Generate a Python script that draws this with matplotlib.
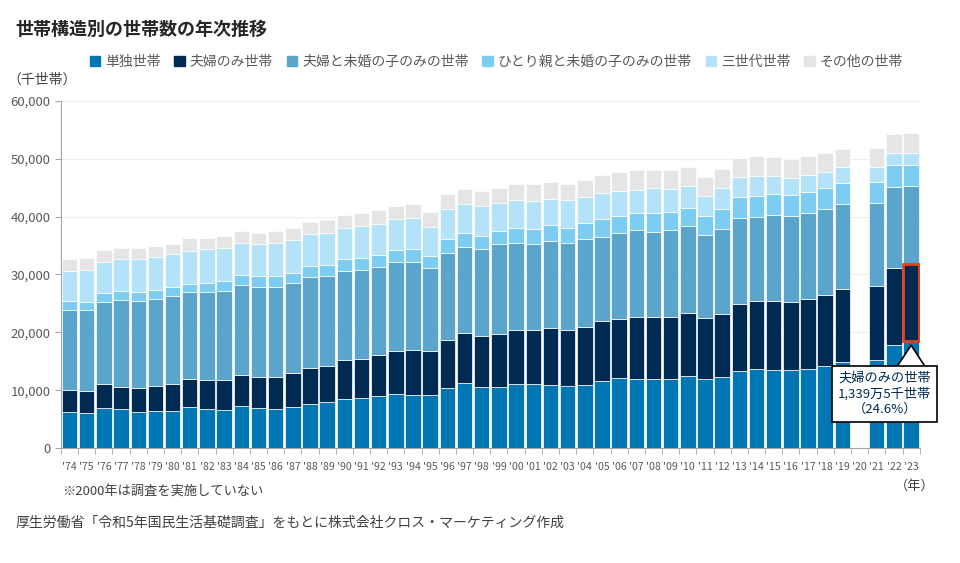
import numpy as np
from matplotlib import pyplot as plt
from matplotlib.patches import Patch

plt.rcParams['font.family'] = ['Noto Sans CJK JP', 'DejaVu Sans']

years = ["'%02d" % (y % 100) for y in range(1974, 2024)]

# thousand households, 2020 not surveyed
tandoku = [6170, 5991, 6970, 6690, 6230, 6400, 6402, 7150, 6800, 6650,
           7260, 6850, 6826, 7150, 7610, 7866, 8420, 8650, 8974, 9340,
           9160, 9213, 10320, 11190, 10627, 10600, 11010, 11017, 10840, 10640,
           10817, 11590, 12050, 11983, 11930, 11990, 12386, 11880, 12280, 13285,
           13662, 13517, 13434, 13613, 14125, 14907, np.nan, 15292, 17852, 18495]
fufu = [3860, 3877, 4040, 3910, 4200, 4320, 4619, 4730, 4960, 5110,
        5360, 5423, 5401, 5870, 6220, 6322, 6750, 6690, 7071, 7430,
        7840, 7488, 8300, 8700, 8781, 9170, 9450, 9403, 9860, 9820,
        10161, 10370, 10200, 10636, 10770, 10710, 10994, 10540, 10940, 11644,
        11748, 11872, 11850, 12096, 12270, 12639, np.nan, 12714, 13330, 13395]
fufu_ko = [13900, 14043, 14180, 14990, 15040, 15100, 15220, 15040, 15160, 15470,
           15510, 15604, 15525, 15460, 15680, 15478, 15490, 15390, 15247, 15340,
           15220, 14398, 15150, 14920, 14951, 15510, 14990, 14872, 15040, 14990,
           15125, 14580, 14870, 15015, 14700, 14930, 14922, 14470, 14650, 14899,
           14546, 14820, 14744, 14891, 14851, 14718, np.nan, 14272, 14022, 13434]
hitorioya = [1500, 1385, 1560, 1500, 1560, 1560, 1630, 1440, 1560, 1670,
             1730, 1797, 1908, 1780, 1960, 1985, 1970, 2130, 1998, 2130,
             2140, 2112, 2420, 2370, 2364, 2300, 2540, 2618, 2770, 2590,
             2774, 3010, 3000, 3006, 3240, 3240, 3180, 3280, 3400, 3621,
             3576, 3624, 3640, 3645, 3683, 3616, np.nan, 3693, 3666, 3645]
sansedai = [5190, 5548, 5410, 5540, 5600, 5600, 5714, 5760, 5880, 5630,
            5590, 5672, 5757, 5760, 5540, 5599, 5410, 5530, 5390, 5310,
            5410, 5082, 5080, 5010, 5125, 4790, 4840, 4844, 4600, 4840,
            4512, 4550, 4380, 4045, 4320, 3980, 3835, 3460, 3640, 3329,
            3464, 3264, 2947, 2910, 2720, 2627, np.nan, 2563, 2086, 2057]
sonota = [2130, 2034, 2130, 1900, 1900, 2010, 1753, 2140, 2010, 2070,
          2000, 1880, 2127, 2080, 2070, 2166, 2300, 2190, 2529, 2350,
          2420, 2478, 2650, 2600, 2648, 2640, 2770, 2909, 2890, 2840,
          2934, 3110, 3170, 3337, 3110, 3270, 3320, 3180, 3340, 3334,
          3435, 3265, 3330, 3270, 3342, 3278, np.nan, 3379, 3353, 3426]

names = ["単独世帯", "夫婦のみ世帯", "夫婦と未婚の子のみの世帯",
         "ひとり親と未婚の子のみの世帯", "三世代世帯", "その他の世帯"]
colors = ["#0077B2", "#002A52", "#5BA4CC", "#7DCDF3", "#B4E2F8", "#E5E5E5"]
series = [tandoku, fufu, fufu_ko, hitorioya, sansedai, sonota]

fig = plt.figure(figsize=(9.6, 5.63), dpi=100)
ax = fig.add_axes([0.0635, 0.2043, 0.8945, 0.6163])

x = np.arange(len(years))
ok = ~np.isnan(np.array(tandoku))
bottom = np.zeros(len(years))
for vals, c in zip(series, colors):
    v = np.array(vals, dtype=float)
    ax.bar(x[ok], v[ok], 0.9, bottom=bottom[ok], color=c,
           edgecolor="white", linewidth=0.5, zorder=2)
    bottom = bottom + np.nan_to_num(v)

# highlight 2023 couple-only households
last = len(years) - 1
ax.bar(x[last], fufu[last], 0.9, bottom=tandoku[last], fill=False,
       edgecolor="#E8401C", linewidth=2, zorder=3)

# callout pointer, then the box on top of it
ax.annotate("", xy=(x[last], tandoku[last]), xytext=(0, -19),
            textcoords="offset points", zorder=5,
            arrowprops=dict(arrowstyle="wedge,tail_width=1.5", fc="white",
                            ec="black", lw=1.2, mutation_scale=14,
                            shrinkA=0, shrinkB=3))
ax.annotate("夫婦のみの世帯\n1,339万5千世帯\n（24.6%）",
            xy=(x[last], tandoku[last]), xytext=(-19, -38),
            textcoords="offset points", ha="center", va="center",
            fontsize=9.5, color="#002A52", linespacing=1.25, zorder=6,
            bbox=dict(boxstyle="square,pad=0.45", fc="white", ec="black", lw=1.2))

ax.set_xlim(-0.5, len(years) - 0.5)
ax.set_ylim(0, 60000)
ax.set_yticks(range(0, 60001, 10000))
ax.set_yticklabels([f"{v:,}" for v in range(0, 60001, 10000)])
ax.set_xticks(x)
ax.set_xticklabels(years)
ax.set_xticks(np.arange(-0.5, len(years), 1), minor=True)
ax.tick_params(axis="x", which="major", length=0, labelsize=7.6,
               labelcolor="#595959", pad=10)
ax.tick_params(axis="x", which="minor", length=4, color="#A6A6A6")
ax.tick_params(axis="y", length=4, color="#A6A6A6", labelsize=9.5,
               labelcolor="#595959")
ax.grid(axis="y", color="#EFEFEF", linewidth=0.8, zorder=0)
ax.set_axisbelow(True)
for s in ["top", "right"]:
    ax.spines[s].set_visible(False)
for s in ["left", "bottom"]:
    ax.spines[s].set_color("#A6A6A6")

handles = [Patch(color=c) for c in colors]
fig.legend(handles, names, loc="center", bbox_to_anchor=(0.517, 0.89), ncol=6,
           frameon=False, fontsize=10, labelcolor="#595959", handlelength=0.75,
           handleheight=0.75, handletextpad=0.35, columnspacing=1.0)

fig.text(0.016, 0.947, "世帯構造別の世帯数の年次推移", fontsize=13,
         fontweight="bold", color="#262626", va="center")
fig.text(0.008, 0.858, "（千世帯）", fontsize=10, color="#404040", va="center")
fig.text(0.065, 0.128, "※2000年は調査を実施していない", fontsize=9.5,
         color="#404040", va="center")
fig.text(0.953, 0.137, "（年）", fontsize=9.5, color="#404040", va="center",
         ha="center")
fig.text(0.016, 0.071, "厚生労働省「令和5年国民生活基礎調査」をもとに株式会社クロス・マーケティング作成",
         fontsize=10, color="#404040", va="center")

fig.savefig("out.png", dpi=100)
